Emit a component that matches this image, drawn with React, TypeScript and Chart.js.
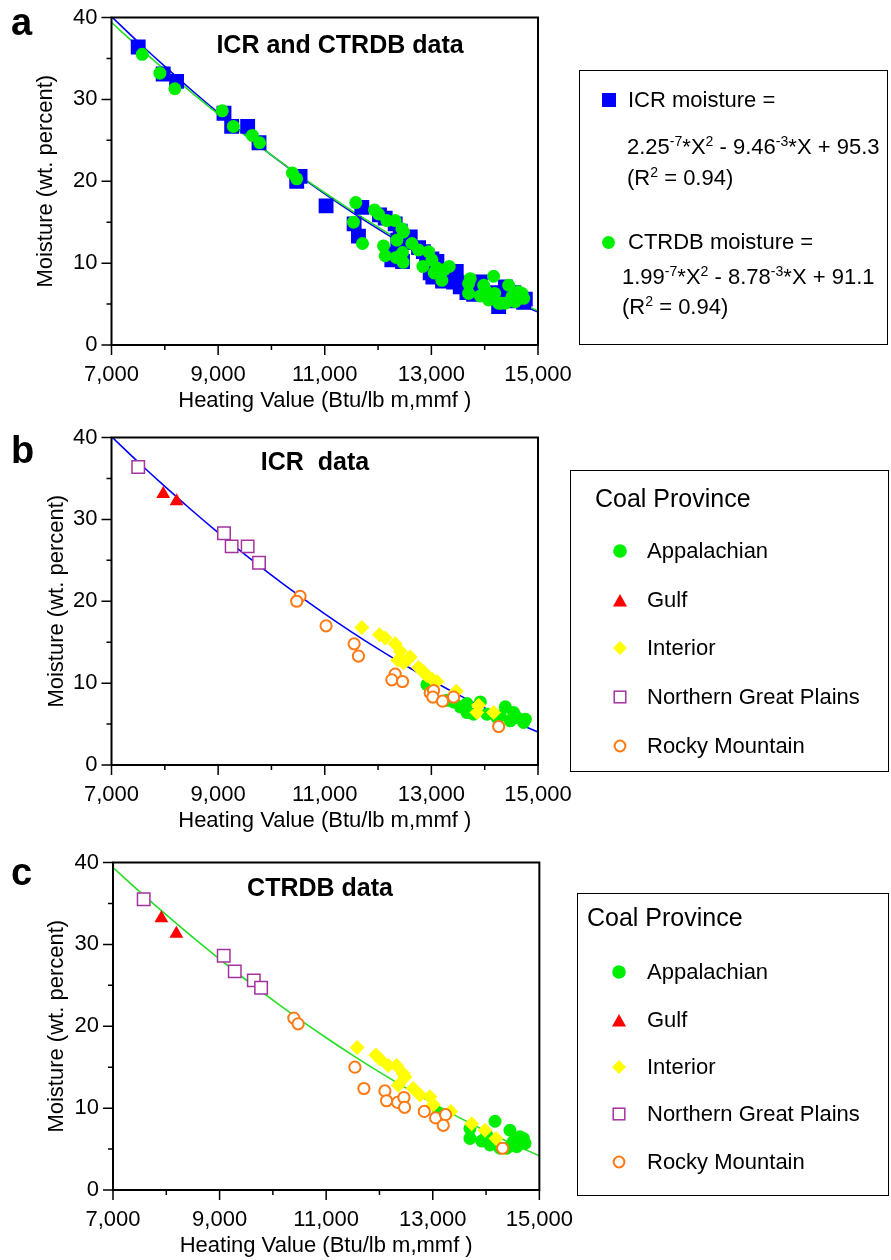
import React, { useEffect, useRef } from 'react';
import { Chart, registerables } from 'chart.js';

Chart.register(...registerables);

const FONT = "'Liberation Sans', Arial, Helvetica, sans-serif";

type Pt = [number, number];

// ---------- axes ----------
const X_MIN = 7000;
const X_MAX = 15000;
const X_STEP = 1000;
const X_LABELED = [7000, 9000, 11000, 13000, 15000];
const Y_MIN = 0;
const Y_MAX = 40;
const Y_STEP = 5;
const Y_LABELED = [0, 10, 20, 30, 40];
const X_TITLE = 'Heating Value (Btu/lb m,mmf )';
const Y_TITLE = 'Moisture (wt. percent)';

// ---------- ICR data (heating value, moisture) by coal province ----------
const ICR_APPALACHIAN: Pt[] = [
  [12916, 9.8], [13292, 7.9], [13417, 7.7], [13542, 7.1], [13667, 7.5], [13667, 6.4],
  [13792, 6.2], [13918, 7.7], [14043, 6.2], [14230, 5.8], [14293, 6.0], [14387, 7.1],
  [14481, 5.4], [14543, 6.4], [14606, 5.8], [14731, 5.2], [14762, 5.6],
];
const ICR_GULF: Pt[] = [[7970, 33.1], [8221, 32.2]];
const ICR_INTERIOR: Pt[] = [
  [11695, 16.8], [12027, 15.9], [12134, 15.5], [12321, 14.8], [12415, 13.9], [12603, 13.2],
  [12371, 12.8], [12480, 12.5], [12560, 12.9], [12760, 11.9], [12850, 11.4], [12916, 10.9],
  [13010, 10.5], [13104, 10.2], [13467, 9.0], [13886, 7.3], [13855, 6.4], [14168, 6.4],
];
const ICR_NGP: Pt[] = [[7501, 36.4], [9110, 28.3], [9254, 26.7], [9554, 26.7], [9767, 24.7]];
const ICR_ROCKY: Pt[] = [
  [10537, 20.6], [10474, 20.0], [11025, 17.0], [11551, 14.8], [11632, 13.3], [12321, 11.1],
  [12258, 10.4], [12459, 10.2], [12978, 8.8], [13041, 9.1], [13028, 8.3], [13210, 7.8],
  [13417, 8.3], [14262, 4.7],
];

// ---------- CTRDB data by coal province ----------
const CTRDB_APPALACHIAN: Pt[] = [
  [13103, 9.4], [13698, 7.5], [13698, 6.3], [13917, 6.0], [14011, 6.7], [14074, 5.5],
  [14168, 8.4], [14262, 5.1], [14387, 5.1], [14449, 7.3], [14512, 5.9], [14574, 5.3],
  [14637, 6.5], [14700, 6.3], [14731, 5.7],
];
const CTRDB_GULF: Pt[] = [[7908, 33.2], [8189, 31.3]];
const CTRDB_INTERIOR: Pt[] = [
  [11582, 17.4], [11933, 16.5], [12008, 16.0], [12165, 15.2], [12321, 15.2], [12446, 14.2],
  [12477, 13.8], [12352, 12.8], [12634, 12.4], [12759, 11.6], [12947, 11.4], [13010, 10.4],
  [13335, 9.6], [13730, 8.1], [13980, 7.3], [14187, 6.3],
];
const CTRDB_NGP: Pt[] = [[7576, 35.5], [9078, 28.6], [9285, 26.7], [9642, 25.6], [9779, 24.7]];
const CTRDB_ROCKY: Pt[] = [
  [10393, 21.0], [10474, 20.3], [11539, 15.0], [11708, 12.4], [12102, 12.1], [12133, 10.9],
  [12340, 10.7], [12459, 11.3], [12471, 10.1], [12841, 9.6], [13053, 8.8], [13241, 9.2],
  [13197, 7.9], [14311, 5.1],
];

// ---------- quadratic fits shown in the legend ----------
const ICR_FIT_COEF = [2.25e-7, -9.46e-3, 95.3];
const CTRDB_FIT_COEF = [1.99e-7, -8.78e-3, 91.1];
const FIT_X = [7000, 7500, 8000, 8500, 9000, 9500, 10000, 10500, 11000, 11500, 12000, 12500, 13000, 13500, 14000, 14500, 15000];

const PROVINCES = ['Appalachian', 'Gulf', 'Interior', 'Northern Great Plains', 'Rocky Mountain'];

// colours
const BLUE = '#0000ff';
const GREEN = '#00ee00';
const GREEN_LINE = '#22e022';
const RED = '#ff0000';
const YELLOW = '#ffff00';
const PURPLE = '#a3329e';
const ORANGE = '#ff7a14';

const toXY = (pts: Pt[]) => pts.map(([x, y]) => ({ x, y }));
const fitCurve = (c: number[]) => FIT_X.map((x) => ({ x, y: c[0] * x * x + c[1] * x + c[2] }));

const CANVAS_W = 580;

const framePlugin = {
  id: 'frameTicks',
  afterDatasetsDraw(chart: any) {
    const { ctx, chartArea: a, scales } = chart;
    ctx.save();
    ctx.strokeStyle = '#000';
    ctx.lineWidth = 1.5;
    ctx.beginPath();
    const xs = scales.x;
    xs.ticks.forEach((t: any, i: number) => {
      const px = xs.getPixelForTick(i);
      const len = X_LABELED.includes(t.value) ? 10 : 5;
      ctx.moveTo(px, a.bottom);
      ctx.lineTo(px, a.bottom + len);
    });
    const ys = scales.y;
    ys.ticks.forEach((t: any, i: number) => {
      const py = ys.getPixelForTick(i);
      const len = Y_LABELED.includes(t.value) ? 10 : 5;
      ctx.moveTo(a.left, py);
      ctx.lineTo(a.left - len, py);
    });
    ctx.stroke();
    ctx.lineWidth = 2;
    ctx.strokeRect(a.left, a.top, a.right - a.left, a.bottom - a.top);
    ctx.restore();
  },
};

type PlotBox = { left: number; top: number; right: number; bottom: number };

function Panel({ top, plot, datasets, yTitlePad }: { top: number; plot: PlotBox; datasets: any[]; yTitlePad: number }) {
  const ref = useRef<HTMLCanvasElement>(null);
  const height = Math.round(plot.bottom + 70 - top);
  useEffect(() => {
    const tickFont = { family: FONT, size: 22 };
    const chart = new Chart(ref.current as HTMLCanvasElement, {
      type: 'scatter',
      data: { datasets },
      options: {
        animation: false,
        responsive: false,
        devicePixelRatio: 1,
        layout: { padding: { top: plot.top - top, right: CANVAS_W - plot.right, left: 0, bottom: 0 } },
        plugins: { legend: { display: false }, tooltip: { enabled: false }, title: { display: false } },
        scales: {
          x: {
            type: 'linear',
            min: X_MIN,
            max: X_MAX,
            border: { display: false },
            grid: { display: true, drawOnChartArea: false, drawTicks: true, tickLength: 10, color: 'rgba(0,0,0,0)' },
            ticks: {
              stepSize: X_STEP,
              autoSkip: false,
              maxRotation: 0,
              padding: 7,
              color: '#000',
              font: tickFont,
              callback: (v: any) => (X_LABELED.includes(Number(v)) ? Number(v).toLocaleString('en-US') : ''),
            },
            title: { display: true, text: X_TITLE, color: '#000', font: tickFont, padding: { top: 0, bottom: 1 } },
            afterFit: (s: any) => {
              s.height = top + height - plot.bottom;
            },
          },
          y: {
            type: 'linear',
            min: Y_MIN,
            max: Y_MAX,
            border: { display: false },
            grid: { display: true, drawOnChartArea: false, drawTicks: true, tickLength: 10, color: 'rgba(0,0,0,0)' },
            ticks: {
              stepSize: Y_STEP,
              autoSkip: false,
              padding: 4,
              color: '#000',
              font: tickFont,
              callback: (v: any) => (Y_LABELED.includes(Number(v)) ? String(v) : ''),
            },
            title: { display: true, text: Y_TITLE, color: '#000', font: tickFont, padding: { top: yTitlePad, bottom: 0 } },
            afterFit: (s: any) => {
              s.width = plot.left;
            },
          },
        },
      } as any,
      plugins: [framePlugin],
    });
    return () => chart.destroy();
  }, []);
  return (
    <canvas
      ref={ref}
      width={CANVAS_W}
      height={height}
      style={{ position: 'absolute', left: 0, top, width: CANVAS_W, height }}
    />
  );
}

const lineDs = (coef: number[], color: string, order: number) => ({
  type: 'line',
  data: fitCurve(coef),
  borderColor: color,
  borderWidth: 1.6,
  pointRadius: 0,
  showLine: true,
  fill: false,
  cubicInterpolationMode: 'monotone',
  order,
});

const ptDs = (pts: Pt[], style: string, r: number, bg: string, border: string, bw: number, order: number) => ({
  data: toXY(pts),
  pointStyle: style,
  pointRadius: r,
  pointHoverRadius: r,
  backgroundColor: bg,
  pointBackgroundColor: bg,
  borderColor: border,
  pointBorderColor: border,
  borderWidth: bw,
  pointBorderWidth: bw,
  order,
});

const provinceDatasets = (app: Pt[], gulf: Pt[], int: Pt[], ngp: Pt[], rm: Pt[], coef: number[], lineColor: string) => [
  lineDs(coef, lineColor, 10),
  ptDs(app, 'circle', 6.5, GREEN, GREEN, 0, 6),
  ptDs(gulf, 'triangle', 8, RED, RED, 0, 5),
  ptDs(int, 'rectRot', 7.5, YELLOW, YELLOW, 0, 4),
  ptDs(ngp, 'rect', 8.8, '#ffffff', PURPLE, 1.5, 3),
  ptDs(rm, 'circle', 5.6, '#ffffff', ORANGE, 2, 2),
];

const ICR_ALL: Pt[] = [...ICR_APPALACHIAN, ...ICR_GULF, ...ICR_INTERIOR, ...ICR_NGP, ...ICR_ROCKY];
const CTRDB_ALL: Pt[] = [...CTRDB_APPALACHIAN, ...CTRDB_GULF, ...CTRDB_INTERIOR, ...CTRDB_NGP, ...CTRDB_ROCKY];

function T({ x, y, size, bold, center, children }: any) {
  return (
    <div
      style={{
        position: 'absolute',
        left: x,
        top: y - 0.4885 * size,
        fontSize: size,
        lineHeight: `${size}px`,
        fontWeight: bold ? 700 : 400,
        whiteSpace: 'pre',
        transform: center ? 'translateX(-50%)' : undefined,
        fontFamily: FONT,
        color: '#000',
      }}
    >
      {children}
    </div>
  );
}

function Letter({ x, baseline, size, children }: any) {
  return (
    <div
      style={{
        position: 'absolute',
        left: x,
        top: baseline - 0.8465 * size,
        fontSize: size,
        lineHeight: `${size}px`,
        fontWeight: 700,
        fontFamily: FONT,
        color: '#000',
      }}
    >
      {children}
    </div>
  );
}

const Sup = ({ children }: any) => (
  <span style={{ fontSize: '0.64em', position: 'relative', top: '-0.62em' }}>{children}</span>
);

function Box({ left, top, right, bottom }: any) {
  return (
    <div
      style={{
        position: 'absolute',
        left,
        top,
        width: right - left,
        height: bottom - top,
        border: '1.5px solid #000',
        boxSizing: 'border-box',
      }}
    />
  );
}

function Marker({ kind, cx, cy }: { kind: number; cx: number; cy: number }) {
  const s = 18;
  let shape: any = null;
  if (kind === 0) shape = <circle cx={9} cy={9} r={6.8} fill={GREEN} />;
  if (kind === 1) shape = <polygon points="2,15.5 16,15.5 9,3" fill={RED} />;
  if (kind === 2) shape = <polygon points="9,2 16,9 9,16 2,9" fill={YELLOW} />;
  if (kind === 3) shape = <rect x={3.2} y={3.2} width={11.6} height={11.6} fill="#fff" stroke={PURPLE} strokeWidth={1.5} />;
  if (kind === 4) shape = <circle cx={9} cy={9} r={5.4} fill="#fff" stroke={ORANGE} strokeWidth={2} />;
  return (
    <svg width={s} height={s} style={{ position: 'absolute', left: cx - 9, top: cy - 9 }}>
      {shape}
    </svg>
  );
}

function ProvinceLegend({ box, headX, headY, markerX, textX, rows }: any) {
  return (
    <>
      <Box {...box} />
      <T x={headX} y={headY} size={25}>Coal Province</T>
      {PROVINCES.map((p, i) => (
        <React.Fragment key={p}>
          <Marker kind={i} cx={markerX} cy={rows[i]} />
          <T x={textX} y={rows[i]} size={22}>{p}</T>
        </React.Fragment>
      ))}
    </>
  );
}

export default function App() {
  const plotA = { left: 111.5, top: 17.5, right: 538, bottom: 345 };
  const plotB = { left: 111.5, top: 437.5, right: 538, bottom: 765 };
  const plotC = { left: 113, top: 862.5, right: 540, bottom: 1190 };

  const dsA = [
    lineDs(CTRDB_FIT_COEF, GREEN_LINE, 3),
    lineDs(ICR_FIT_COEF, BLUE, 4),
    ptDs(ICR_ALL, 'rect', 10.5, BLUE, BLUE, 0, 2),
    ptDs(CTRDB_ALL, 'circle', 6.5, GREEN, GREEN, 0, 1),
  ];
  const dsB = provinceDatasets(ICR_APPALACHIAN, ICR_GULF, ICR_INTERIOR, ICR_NGP, ICR_ROCKY, ICR_FIT_COEF, BLUE);
  const dsC = provinceDatasets(CTRDB_APPALACHIAN, CTRDB_GULF, CTRDB_INTERIOR, CTRDB_NGP, CTRDB_ROCKY, CTRDB_FIT_COEF, GREEN_LINE);

  return (
    <div
      style={{
        position: 'absolute',
        left: 0,
        top: 0,
        width: 891,
        height: 1260,
        overflow: 'hidden',
        background: '#fff',
        fontFamily: FONT,
      }}
    >
      <Panel top={0} plot={plotA} datasets={dsA} yTitlePad={32.8} />
      <Panel top={420} plot={plotB} datasets={dsB} yTitlePad={43.5} />
      <Panel top={845} plot={plotC} datasets={dsC} yTitlePad={43.5} />

      <Letter x={11} baseline={35} size={38}>a</Letter>
      <Letter x={11} baseline={463} size={38}>b</Letter>
      <Letter x={11} baseline={885} size={38}>c</Letter>

      <T x={340} y={44} size={25} bold center>ICR and CTRDB data</T>
      <T x={315} y={461} size={25} bold center>{'ICR  data'}</T>
      <T x={320} y={887.5} size={25} bold center>CTRDB data</T>

      {/* legend a */}
      <Box left={579} top={70} right={888} bottom={345} />
      <div style={{ position: 'absolute', left: 602, top: 93, width: 14, height: 14, background: BLUE }} />
      <T x={628} y={100} size={22}>ICR moisture =</T>
      <T x={627} y={147} size={22}>
        2.25<Sup>-7</Sup>*X<Sup>2</Sup> - 9.46<Sup>-3</Sup>*X + 95.3
      </T>
      <T x={627} y={178} size={22}>
        (R<Sup>2</Sup> = 0.94)
      </T>
      <div style={{ position: 'absolute', left: 602, top: 235.5, width: 13, height: 13, borderRadius: '50%', background: GREEN }} />
      <T x={628} y={242} size={22}>CTRDB moisture =</T>
      <T x={622} y={277} size={22}>
        1.99<Sup>-7</Sup>*X<Sup>2</Sup> - 8.78<Sup>-3</Sup>*X + 91.1
      </T>
      <T x={622} y={307} size={22}>
        (R<Sup>2</Sup> = 0.94)
      </T>

      <ProvinceLegend
        box={{ left: 570, top: 470, right: 889, bottom: 772 }}
        headX={595}
        headY={498}
        markerX={620}
        textX={647}
        rows={[551, 600, 648, 697, 746]}
      />
      <ProvinceLegend
        box={{ left: 577, top: 893, right: 889, bottom: 1196 }}
        headX={587}
        headY={917}
        markerX={619}
        textX={647}
        rows={[972, 1020, 1067, 1114, 1162]}
      />
    </div>
  );
}
